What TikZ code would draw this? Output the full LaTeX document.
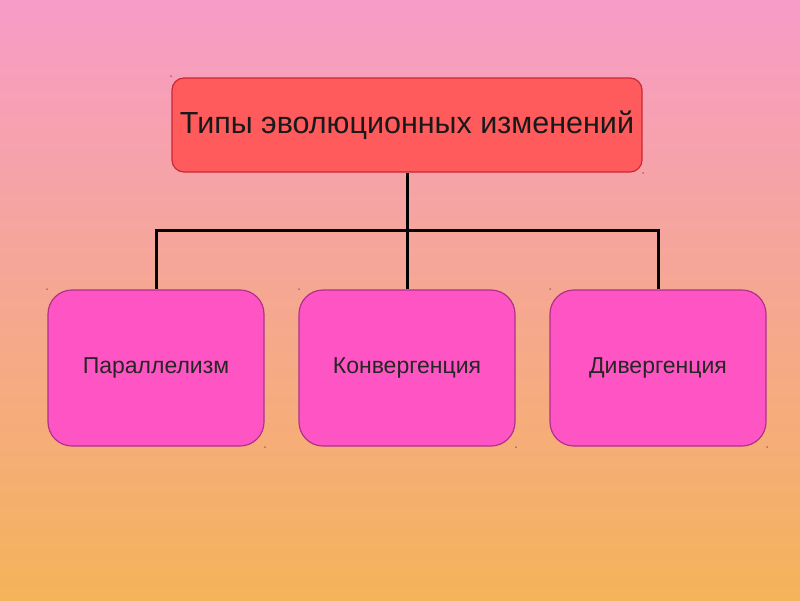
\documentclass[tikz,border=0pt]{standalone}
\usepackage{fontspec}
\setmainfont{Liberation Sans}
\definecolor{bgtop}{HTML}{F79CC8}
\definecolor{bgmid}{HTML}{F8A8A0}
\definecolor{bgbot}{HTML}{F5B35A}
\definecolor{topfill}{HTML}{FF5A5C}
\definecolor{topedge}{HTML}{C82838}
\definecolor{subfill}{HTML}{FF55C4}
\definecolor{subedge}{HTML}{B0308C}
\tikzset{
  headbox/.style={draw=topedge, line width=1.2pt, fill=topfill, rounded corners=12pt,
    minimum width=470pt, minimum height=94pt, inner sep=0pt,
    font=\fontsize{30.5}{34}\selectfont, text=black!90},
  subbox/.style={draw=subedge, line width=1.2pt, fill=subfill, rounded corners=24pt,
    minimum width=216pt, minimum height=156pt, inner sep=0pt,
    font=\fontsize{23}{27}\selectfont, text=black!85},
  conn/.style={line width=3pt, black},
  handle/.style={fill=black!70, inner sep=0pt, minimum size=1.5pt, circle}
}
\begin{document}
\begin{tikzpicture}[x=1pt,y=-1pt]
\shade[top color=bgtop, middle color=bgmid, bottom color=bgbot] (0,0) rectangle (800,600);
\useasboundingbox (0,0) rectangle (800,600);
\node[headbox] (top) at (407,125) {Типы эволюционных изменений};
\node[subbox] (left) at (156,368) {Параллелизм};
\node[subbox] (mid) at (407,368) {Конвергенция};
\node[subbox] (right) at (658,368) {Дивергенция};
\coordinate (j) at (407,230);
\draw[conn] (top.south) -- (mid.north);
\draw[conn] (left.north) -- (left.north |- j) -- (right.north |- j) -- (right.north);
\node[handle] (h1) at (171,76) {};
\node[handle] (h2) at (643,173) {};
\node[handle] (h3) at (47,289) {};
\node[handle] (h4) at (265,447) {};
\node[handle] (h5) at (299,289) {};
\node[handle] (h6) at (516,447) {};
\node[handle] (h7) at (550,289) {};
\node[handle] (h8) at (767,447) {};
\end{tikzpicture}
\end{document}
